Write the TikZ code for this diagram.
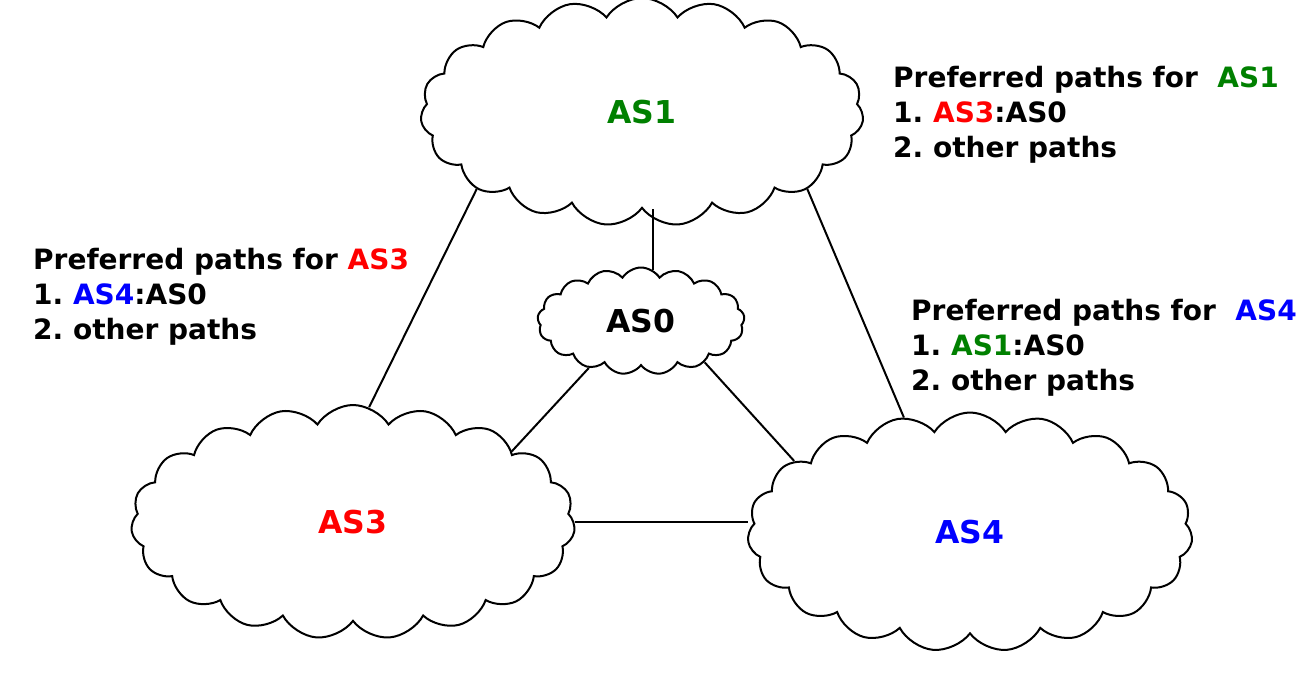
\documentclass[tikz,border=0pt]{standalone}
\usepackage{fontspec}
\setmainfont{DejaVu Sans}
\usetikzlibrary{shapes.symbols, positioning}
\definecolor{asgreen}{RGB}{0,128,0}
\frenchspacing

\begin{document}
\begin{tikzpicture}[
    x=1pt, y=-1pt,
    as/.style={cloud, cloud puffs=19, cloud puff arc=115, draw, line width=2pt, font=\fontsize{31.5}{38}\selectfont\bfseries, inner sep=0pt},
    pref/.style={anchor=base west, align=left, inner sep=0pt, font=\fontsize{28}{35}\selectfont\bfseries},
    link/.style={line width=2pt}
]
\useasboundingbox (0,0) rectangle (1297,672);
% the five autonomous systems
\node[as, minimum width=443pt, minimum height=228pt, text=asgreen] (as1) at (642,112) {AS1};
\node[as, cloud puffs=17, minimum width=207pt, minimum height=107pt] (as0) at (641,321) {AS0};
\node[as, minimum width=444pt, minimum height=234pt, text=red] (as3) at (353,522) {AS3};
\node[as, minimum width=445pt, minimum height=239pt, text=blue] (as4) at (970,532) {AS4};
% peering links
\draw[link] (as0.77) -- (as0.77 |- as1.south);
\draw[link] (as1.205) -- (as3.82);
\draw[link] (as1.335) -- (as4.120);
\draw[link] (as0.222) -- (as3.24);
\draw[link] (as0.327) -- (as4.158);
\draw[link] (as3.east) -- (as4.west |- as3.east);
% preferences
\node[pref] (pref1) at (893,157) {Preferred paths for \ \textcolor{asgreen}{AS1}\\1. \textcolor{red}{AS3}:AS0\\2. other paths};
\node[pref] (pref3) at (33,339) {Preferred paths for \textcolor{red}{AS3}\\1. \textcolor{blue}{AS4}:AS0\\2. other paths};
\node[pref] (pref4) at (911,390) {Preferred paths for \ \textcolor{blue}{AS4}\\1. \textcolor{asgreen}{AS1}:AS0\\2. other paths};
\end{tikzpicture}
\end{document}
